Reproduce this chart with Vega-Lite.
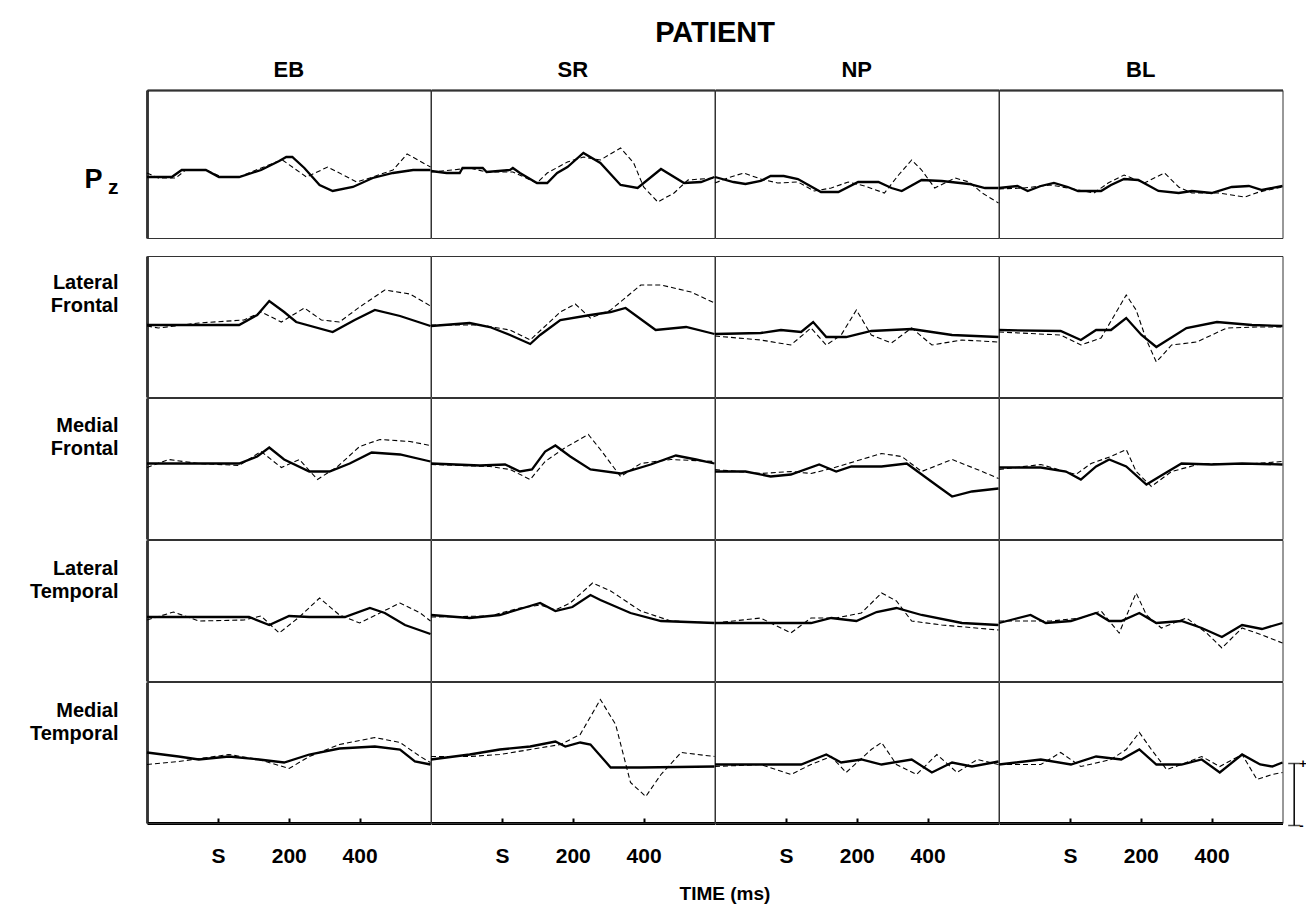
{
"$schema":"https://vega.github.io/schema/vega-lite/v6.json",
"padding":{"left":29,"top":19,"right":0,"bottom":4},
"spacing":16,
"datasets":{"erp":[
{"r":"Pz","c":"EB","k":"s","t":-200,"v":-2.6},{"r":"Pz","c":"EB","k":"s","t":-130,"v":-2.6},{"r":"Pz","c":"EB","k":"s","t":-102,"v":-1.2},{"r":"Pz","c":"EB","k":"s","t":-34,"v":-1.2},{"r":"Pz","c":"EB","k":"s","t":3,"v":-2.6},{"r":"Pz","c":"EB","k":"s","t":60,"v":-2.6},{"r":"Pz","c":"EB","k":"s","t":122,"v":-1.2},{"r":"Pz","c":"EB","k":"s","t":173,"v":0.6},{"r":"Pz","c":"EB","k":"s","t":193,"v":1.4},{"r":"Pz","c":"EB","k":"s","t":210,"v":1.4},{"r":"Pz","c":"EB","k":"s","t":244,"v":-0.8},{"r":"Pz","c":"EB","k":"s","t":287,"v":-4.2},{"r":"Pz","c":"EB","k":"s","t":324,"v":-5.4},{"r":"Pz","c":"EB","k":"s","t":381,"v":-4.6},{"r":"Pz","c":"EB","k":"s","t":437,"v":-2.8},{"r":"Pz","c":"EB","k":"s","t":494,"v":-1.8},{"r":"Pz","c":"EB","k":"s","t":551,"v":-1.2},{"r":"Pz","c":"EB","k":"s","t":600,"v":-1.2},
{"r":"Pz","c":"EB","k":"d","t":-200,"v":-1.8},{"r":"Pz","c":"EB","k":"d","t":-168,"v":-2.8},{"r":"Pz","c":"EB","k":"d","t":-119,"v":-2.8},{"r":"Pz","c":"EB","k":"d","t":-91,"v":-1.2},{"r":"Pz","c":"EB","k":"d","t":-34,"v":-1.2},{"r":"Pz","c":"EB","k":"d","t":11,"v":-2.6},{"r":"Pz","c":"EB","k":"d","t":60,"v":-2.6},{"r":"Pz","c":"EB","k":"d","t":108,"v":-1.2},{"r":"Pz","c":"EB","k":"d","t":165,"v":0.4},{"r":"Pz","c":"EB","k":"d","t":182,"v":0.8},{"r":"Pz","c":"EB","k":"d","t":250,"v":-2.6},{"r":"Pz","c":"EB","k":"d","t":310,"v":-0.6},{"r":"Pz","c":"EB","k":"d","t":392,"v":-3.6},{"r":"Pz","c":"EB","k":"d","t":437,"v":-2.6},{"r":"Pz","c":"EB","k":"d","t":494,"v":-1.2},{"r":"Pz","c":"EB","k":"d","t":534,"v":2.0},{"r":"Pz","c":"EB","k":"d","t":600,"v":-0.6},
{"r":"Pz","c":"SR","k":"s","t":-200,"v":-1.4},{"r":"Pz","c":"SR","k":"s","t":-156,"v":-1.8},{"r":"Pz","c":"SR","k":"s","t":-119,"v":-1.8},{"r":"Pz","c":"SR","k":"s","t":-111,"v":-0.8},{"r":"Pz","c":"SR","k":"s","t":-54,"v":-0.8},{"r":"Pz","c":"SR","k":"s","t":-43,"v":-1.6},{"r":"Pz","c":"SR","k":"s","t":23,"v":-1.2},{"r":"Pz","c":"SR","k":"s","t":31,"v":-0.8},{"r":"Pz","c":"SR","k":"s","t":51,"v":-1.8},{"r":"Pz","c":"SR","k":"s","t":99,"v":-3.8},{"r":"Pz","c":"SR","k":"s","t":128,"v":-3.8},{"r":"Pz","c":"SR","k":"s","t":156,"v":-1.8},{"r":"Pz","c":"SR","k":"s","t":185,"v":-0.6},{"r":"Pz","c":"SR","k":"s","t":230,"v":2.2},{"r":"Pz","c":"SR","k":"s","t":278,"v":0.2},{"r":"Pz","c":"SR","k":"s","t":335,"v":-4.2},{"r":"Pz","c":"SR","k":"s","t":383,"v":-4.8},{"r":"Pz","c":"SR","k":"s","t":449,"v":-1.0},{"r":"Pz","c":"SR","k":"s","t":514,"v":-3.8},{"r":"Pz","c":"SR","k":"s","t":562,"v":-3.6},{"r":"Pz","c":"SR","k":"s","t":600,"v":-2.6},
{"r":"Pz","c":"SR","k":"d","t":-200,"v":-1.6},{"r":"Pz","c":"SR","k":"d","t":-139,"v":-1.2},{"r":"Pz","c":"SR","k":"d","t":-91,"v":-0.8},{"r":"Pz","c":"SR","k":"d","t":-43,"v":-1.6},{"r":"Pz","c":"SR","k":"d","t":31,"v":-1.6},{"r":"Pz","c":"SR","k":"d","t":99,"v":-3.8},{"r":"Pz","c":"SR","k":"d","t":128,"v":-1.8},{"r":"Pz","c":"SR","k":"d","t":185,"v":0.4},{"r":"Pz","c":"SR","k":"d","t":230,"v":1.4},{"r":"Pz","c":"SR","k":"d","t":278,"v":0.8},{"r":"Pz","c":"SR","k":"d","t":335,"v":3.2},{"r":"Pz","c":"SR","k":"d","t":372,"v":0.2},{"r":"Pz","c":"SR","k":"d","t":400,"v":-4.6},{"r":"Pz","c":"SR","k":"d","t":440,"v":-7.6},{"r":"Pz","c":"SR","k":"d","t":486,"v":-5.8},{"r":"Pz","c":"SR","k":"d","t":525,"v":-3.2},{"r":"Pz","c":"SR","k":"d","t":600,"v":-2.8},
{"r":"Pz","c":"NP","k":"s","t":-200,"v":-2.6},{"r":"Pz","c":"NP","k":"s","t":-148,"v":-3.6},{"r":"Pz","c":"NP","k":"s","t":-114,"v":-4.0},{"r":"Pz","c":"NP","k":"s","t":-71,"v":-3.4},{"r":"Pz","c":"NP","k":"s","t":-43,"v":-2.4},{"r":"Pz","c":"NP","k":"s","t":-6,"v":-2.4},{"r":"Pz","c":"NP","k":"s","t":34,"v":-3.0},{"r":"Pz","c":"NP","k":"s","t":99,"v":-5.6},{"r":"Pz","c":"NP","k":"s","t":148,"v":-5.6},{"r":"Pz","c":"NP","k":"s","t":204,"v":-3.6},{"r":"Pz","c":"NP","k":"s","t":261,"v":-3.6},{"r":"Pz","c":"NP","k":"s","t":298,"v":-4.8},{"r":"Pz","c":"NP","k":"s","t":327,"v":-5.4},{"r":"Pz","c":"NP","k":"s","t":383,"v":-3.2},{"r":"Pz","c":"NP","k":"s","t":440,"v":-3.4},{"r":"Pz","c":"NP","k":"s","t":517,"v":-4.0},{"r":"Pz","c":"NP","k":"s","t":562,"v":-4.8},{"r":"Pz","c":"NP","k":"s","t":600,"v":-4.8},
{"r":"Pz","c":"NP","k":"d","t":-200,"v":-3.8},{"r":"Pz","c":"NP","k":"d","t":-165,"v":-2.8},{"r":"Pz","c":"NP","k":"d","t":-119,"v":-1.8},{"r":"Pz","c":"NP","k":"d","t":-71,"v":-3.0},{"r":"Pz","c":"NP","k":"d","t":-23,"v":-3.8},{"r":"Pz","c":"NP","k":"d","t":34,"v":-3.6},{"r":"Pz","c":"NP","k":"d","t":80,"v":-5.4},{"r":"Pz","c":"NP","k":"d","t":128,"v":-4.8},{"r":"Pz","c":"NP","k":"d","t":176,"v":-3.6},{"r":"Pz","c":"NP","k":"d","t":222,"v":-4.4},{"r":"Pz","c":"NP","k":"d","t":278,"v":-5.8},{"r":"Pz","c":"NP","k":"d","t":318,"v":-2.2},{"r":"Pz","c":"NP","k":"d","t":355,"v":0.8},{"r":"Pz","c":"NP","k":"d","t":383,"v":-1.2},{"r":"Pz","c":"NP","k":"d","t":420,"v":-4.8},{"r":"Pz","c":"NP","k":"d","t":477,"v":-2.8},{"r":"Pz","c":"NP","k":"d","t":517,"v":-3.6},{"r":"Pz","c":"NP","k":"d","t":554,"v":-5.8},{"r":"Pz","c":"NP","k":"d","t":600,"v":-7.8},
{"r":"Pz","c":"BL","k":"s","t":-200,"v":-4.8},{"r":"Pz","c":"BL","k":"s","t":-148,"v":-4.4},{"r":"Pz","c":"BL","k":"s","t":-119,"v":-5.4},{"r":"Pz","c":"BL","k":"s","t":-82,"v":-4.4},{"r":"Pz","c":"BL","k":"s","t":-45,"v":-3.8},{"r":"Pz","c":"BL","k":"s","t":-6,"v":-4.6},{"r":"Pz","c":"BL","k":"s","t":23,"v":-5.4},{"r":"Pz","c":"BL","k":"s","t":88,"v":-5.4},{"r":"Pz","c":"BL","k":"s","t":116,"v":-4.2},{"r":"Pz","c":"BL","k":"s","t":153,"v":-3.0},{"r":"Pz","c":"BL","k":"s","t":193,"v":-3.2},{"r":"Pz","c":"BL","k":"s","t":250,"v":-5.4},{"r":"Pz","c":"BL","k":"s","t":307,"v":-5.8},{"r":"Pz","c":"BL","k":"s","t":344,"v":-5.4},{"r":"Pz","c":"BL","k":"s","t":400,"v":-5.8},{"r":"Pz","c":"BL","k":"s","t":457,"v":-4.6},{"r":"Pz","c":"BL","k":"s","t":505,"v":-4.4},{"r":"Pz","c":"BL","k":"s","t":542,"v":-5.2},{"r":"Pz","c":"BL","k":"s","t":600,"v":-4.4},
{"r":"Pz","c":"BL","k":"d","t":-200,"v":-5.0},{"r":"Pz","c":"BL","k":"d","t":-131,"v":-4.8},{"r":"Pz","c":"BL","k":"d","t":-54,"v":-4.2},{"r":"Pz","c":"BL","k":"d","t":-6,"v":-4.8},{"r":"Pz","c":"BL","k":"d","t":68,"v":-5.8},{"r":"Pz","c":"BL","k":"d","t":108,"v":-3.8},{"r":"Pz","c":"BL","k":"d","t":153,"v":-2.2},{"r":"Pz","c":"BL","k":"d","t":210,"v":-3.8},{"r":"Pz","c":"BL","k":"d","t":267,"v":-1.8},{"r":"Pz","c":"BL","k":"d","t":307,"v":-4.6},{"r":"Pz","c":"BL","k":"d","t":344,"v":-5.8},{"r":"Pz","c":"BL","k":"d","t":420,"v":-5.8},{"r":"Pz","c":"BL","k":"d","t":494,"v":-6.6},{"r":"Pz","c":"BL","k":"d","t":534,"v":-5.6},{"r":"Pz","c":"BL","k":"d","t":600,"v":-4.6},

{"r":"Lateral Frontal","c":"EB","k":"s","t":-200,"v":0.3},{"r":"Lateral Frontal","c":"EB","k":"s","t":60,"v":0.3},{"r":"Lateral Frontal","c":"EB","k":"s","t":111,"v":2.3},{"r":"Lateral Frontal","c":"EB","k":"s","t":145,"v":5.1},{"r":"Lateral Frontal","c":"EB","k":"s","t":187,"v":2.9},{"r":"Lateral Frontal","c":"EB","k":"s","t":221,"v":0.9},{"r":"Lateral Frontal","c":"EB","k":"s","t":324,"v":-1.1},{"r":"Lateral Frontal","c":"EB","k":"s","t":386,"v":1.3},{"r":"Lateral Frontal","c":"EB","k":"s","t":443,"v":3.3},{"r":"Lateral Frontal","c":"EB","k":"s","t":514,"v":2.1},{"r":"Lateral Frontal","c":"EB","k":"s","t":600,"v":0.1},
{"r":"Lateral Frontal","c":"EB","k":"d","t":-200,"v":0.1},{"r":"Lateral Frontal","c":"EB","k":"d","t":-168,"v":-0.3},{"r":"Lateral Frontal","c":"EB","k":"d","t":-54,"v":0.7},{"r":"Lateral Frontal","c":"EB","k":"d","t":74,"v":1.3},{"r":"Lateral Frontal","c":"EB","k":"d","t":122,"v":2.9},{"r":"Lateral Frontal","c":"EB","k":"d","t":179,"v":0.9},{"r":"Lateral Frontal","c":"EB","k":"d","t":244,"v":3.7},{"r":"Lateral Frontal","c":"EB","k":"d","t":292,"v":1.3},{"r":"Lateral Frontal","c":"EB","k":"d","t":343,"v":0.9},{"r":"Lateral Frontal","c":"EB","k":"d","t":400,"v":3.9},{"r":"Lateral Frontal","c":"EB","k":"d","t":471,"v":7.3},{"r":"Lateral Frontal","c":"EB","k":"d","t":542,"v":6.5},{"r":"Lateral Frontal","c":"EB","k":"d","t":600,"v":4.1},
{"r":"Lateral Frontal","c":"SR","k":"s","t":-200,"v":0.1},{"r":"Lateral Frontal","c":"SR","k":"s","t":-91,"v":0.7},{"r":"Lateral Frontal","c":"SR","k":"s","t":-34,"v":-0.1},{"r":"Lateral Frontal","c":"SR","k":"s","t":23,"v":-1.7},{"r":"Lateral Frontal","c":"SR","k":"s","t":80,"v":-3.5},{"r":"Lateral Frontal","c":"SR","k":"s","t":108,"v":-1.7},{"r":"Lateral Frontal","c":"SR","k":"s","t":165,"v":1.3},{"r":"Lateral Frontal","c":"SR","k":"s","t":250,"v":2.3},{"r":"Lateral Frontal","c":"SR","k":"s","t":307,"v":2.9},{"r":"Lateral Frontal","c":"SR","k":"s","t":349,"v":3.7},{"r":"Lateral Frontal","c":"SR","k":"s","t":434,"v":-0.7},{"r":"Lateral Frontal","c":"SR","k":"s","t":520,"v":-0.1},{"r":"Lateral Frontal","c":"SR","k":"s","t":600,"v":-1.5},
{"r":"Lateral Frontal","c":"SR","k":"d","t":-200,"v":0.3},{"r":"Lateral Frontal","c":"SR","k":"d","t":-62,"v":0.3},{"r":"Lateral Frontal","c":"SR","k":"d","t":23,"v":-0.7},{"r":"Lateral Frontal","c":"SR","k":"d","t":80,"v":-2.7},{"r":"Lateral Frontal","c":"SR","k":"d","t":165,"v":2.9},{"r":"Lateral Frontal","c":"SR","k":"d","t":207,"v":4.5},{"r":"Lateral Frontal","c":"SR","k":"d","t":250,"v":1.7},{"r":"Lateral Frontal","c":"SR","k":"d","t":307,"v":3.3},{"r":"Lateral Frontal","c":"SR","k":"d","t":392,"v":8.3},{"r":"Lateral Frontal","c":"SR","k":"d","t":449,"v":8.3},{"r":"Lateral Frontal","c":"SR","k":"d","t":534,"v":6.9},{"r":"Lateral Frontal","c":"SR","k":"d","t":600,"v":4.7},
{"r":"Lateral Frontal","c":"NP","k":"s","t":-200,"v":-1.5},{"r":"Lateral Frontal","c":"NP","k":"s","t":-71,"v":-1.3},{"r":"Lateral Frontal","c":"NP","k":"s","t":-14,"v":-0.7},{"r":"Lateral Frontal","c":"NP","k":"s","t":43,"v":-1.1},{"r":"Lateral Frontal","c":"NP","k":"s","t":77,"v":0.9},{"r":"Lateral Frontal","c":"NP","k":"s","t":114,"v":-2.1},{"r":"Lateral Frontal","c":"NP","k":"s","t":170,"v":-2.1},{"r":"Lateral Frontal","c":"NP","k":"s","t":241,"v":-0.9},{"r":"Lateral Frontal","c":"NP","k":"s","t":355,"v":-0.5},{"r":"Lateral Frontal","c":"NP","k":"s","t":469,"v":-1.7},{"r":"Lateral Frontal","c":"NP","k":"s","t":600,"v":-2.1},
{"r":"Lateral Frontal","c":"NP","k":"d","t":-200,"v":-1.9},{"r":"Lateral Frontal","c":"NP","k":"d","t":-71,"v":-2.7},{"r":"Lateral Frontal","c":"NP","k":"d","t":14,"v":-3.7},{"r":"Lateral Frontal","c":"NP","k":"d","t":71,"v":-0.3},{"r":"Lateral Frontal","c":"NP","k":"d","t":114,"v":-3.7},{"r":"Lateral Frontal","c":"NP","k":"d","t":156,"v":-1.7},{"r":"Lateral Frontal","c":"NP","k":"d","t":199,"v":3.3},{"r":"Lateral Frontal","c":"NP","k":"d","t":241,"v":-1.7},{"r":"Lateral Frontal","c":"NP","k":"d","t":298,"v":-3.3},{"r":"Lateral Frontal","c":"NP","k":"d","t":355,"v":-0.3},{"r":"Lateral Frontal","c":"NP","k":"d","t":412,"v":-3.7},{"r":"Lateral Frontal","c":"NP","k":"d","t":497,"v":-2.7},{"r":"Lateral Frontal","c":"NP","k":"d","t":600,"v":-3.1},
{"r":"Lateral Frontal","c":"BL","k":"s","t":-200,"v":-0.7},{"r":"Lateral Frontal","c":"BL","k":"s","t":-26,"v":-0.9},{"r":"Lateral Frontal","c":"BL","k":"s","t":31,"v":-2.7},{"r":"Lateral Frontal","c":"BL","k":"s","t":74,"v":-0.7},{"r":"Lateral Frontal","c":"BL","k":"s","t":116,"v":-0.7},{"r":"Lateral Frontal","c":"BL","k":"s","t":159,"v":1.7},{"r":"Lateral Frontal","c":"BL","k":"s","t":202,"v":-1.7},{"r":"Lateral Frontal","c":"BL","k":"s","t":244,"v":-4.1},{"r":"Lateral Frontal","c":"BL","k":"s","t":329,"v":-0.3},{"r":"Lateral Frontal","c":"BL","k":"s","t":415,"v":0.9},{"r":"Lateral Frontal","c":"BL","k":"s","t":514,"v":0.3},{"r":"Lateral Frontal","c":"BL","k":"s","t":600,"v":0.1},
{"r":"Lateral Frontal","c":"BL","k":"d","t":-200,"v":-1.1},{"r":"Lateral Frontal","c":"BL","k":"d","t":-26,"v":-1.7},{"r":"Lateral Frontal","c":"BL","k":"d","t":31,"v":-3.7},{"r":"Lateral Frontal","c":"BL","k":"d","t":88,"v":-2.3},{"r":"Lateral Frontal","c":"BL","k":"d","t":131,"v":2.9},{"r":"Lateral Frontal","c":"BL","k":"d","t":159,"v":6.3},{"r":"Lateral Frontal","c":"BL","k":"d","t":187,"v":3.3},{"r":"Lateral Frontal","c":"BL","k":"d","t":216,"v":-2.7},{"r":"Lateral Frontal","c":"BL","k":"d","t":244,"v":-7.1},{"r":"Lateral Frontal","c":"BL","k":"d","t":287,"v":-3.7},{"r":"Lateral Frontal","c":"BL","k":"d","t":358,"v":-3.1},{"r":"Lateral Frontal","c":"BL","k":"d","t":443,"v":-0.3},{"r":"Lateral Frontal","c":"BL","k":"d","t":528,"v":-0.1},{"r":"Lateral Frontal","c":"BL","k":"d","t":600,"v":-0.1},

{"r":"Medial Frontal","c":"EB","k":"s","t":-200,"v":1},{"r":"Medial Frontal","c":"EB","k":"s","t":60,"v":1},{"r":"Medial Frontal","c":"EB","k":"s","t":111,"v":2.4},{"r":"Medial Frontal","c":"EB","k":"s","t":145,"v":4.2},{"r":"Medial Frontal","c":"EB","k":"s","t":187,"v":1.8},{"r":"Medial Frontal","c":"EB","k":"s","t":258,"v":-0.6},{"r":"Medial Frontal","c":"EB","k":"s","t":315,"v":-0.6},{"r":"Medial Frontal","c":"EB","k":"s","t":372,"v":1},{"r":"Medial Frontal","c":"EB","k":"s","t":434,"v":3.2},{"r":"Medial Frontal","c":"EB","k":"s","t":514,"v":2.8},{"r":"Medial Frontal","c":"EB","k":"s","t":600,"v":1.4},
{"r":"Medial Frontal","c":"EB","k":"d","t":-200,"v":0.2},{"r":"Medial Frontal","c":"EB","k":"d","t":-139,"v":1.8},{"r":"Medial Frontal","c":"EB","k":"d","t":-54,"v":1},{"r":"Medial Frontal","c":"EB","k":"d","t":60,"v":0.6},{"r":"Medial Frontal","c":"EB","k":"d","t":122,"v":3.4},{"r":"Medial Frontal","c":"EB","k":"d","t":179,"v":0.2},{"r":"Medial Frontal","c":"EB","k":"d","t":230,"v":1.8},{"r":"Medial Frontal","c":"EB","k":"d","t":281,"v":-2.2},{"r":"Medial Frontal","c":"EB","k":"d","t":338,"v":0.4},{"r":"Medial Frontal","c":"EB","k":"d","t":400,"v":4.4},{"r":"Medial Frontal","c":"EB","k":"d","t":457,"v":5.8},{"r":"Medial Frontal","c":"EB","k":"d","t":542,"v":5.4},{"r":"Medial Frontal","c":"EB","k":"d","t":600,"v":4.6},
{"r":"Medial Frontal","c":"SR","k":"s","t":-200,"v":1},{"r":"Medial Frontal","c":"SR","k":"s","t":-62,"v":0.6},{"r":"Medial Frontal","c":"SR","k":"s","t":9,"v":0.8},{"r":"Medial Frontal","c":"SR","k":"s","t":51,"v":-0.6},{"r":"Medial Frontal","c":"SR","k":"s","t":85,"v":-0.2},{"r":"Medial Frontal","c":"SR","k":"s","t":122,"v":3.4},{"r":"Medial Frontal","c":"SR","k":"s","t":151,"v":4.6},{"r":"Medial Frontal","c":"SR","k":"s","t":193,"v":2.4},{"r":"Medial Frontal","c":"SR","k":"s","t":250,"v":-0.2},{"r":"Medial Frontal","c":"SR","k":"s","t":335,"v":-1},{"r":"Medial Frontal","c":"SR","k":"s","t":420,"v":0.8},{"r":"Medial Frontal","c":"SR","k":"s","t":491,"v":2.6},{"r":"Medial Frontal","c":"SR","k":"s","t":548,"v":1.8},{"r":"Medial Frontal","c":"SR","k":"s","t":600,"v":1},
{"r":"Medial Frontal","c":"SR","k":"d","t":-200,"v":0.8},{"r":"Medial Frontal","c":"SR","k":"d","t":-34,"v":0.4},{"r":"Medial Frontal","c":"SR","k":"d","t":23,"v":-0.2},{"r":"Medial Frontal","c":"SR","k":"d","t":80,"v":-2.2},{"r":"Medial Frontal","c":"SR","k":"d","t":122,"v":1.4},{"r":"Medial Frontal","c":"SR","k":"d","t":179,"v":4.2},{"r":"Medial Frontal","c":"SR","k":"d","t":244,"v":6.8},{"r":"Medial Frontal","c":"SR","k":"d","t":278,"v":3.8},{"r":"Medial Frontal","c":"SR","k":"d","t":335,"v":-1.6},{"r":"Medial Frontal","c":"SR","k":"d","t":392,"v":1},{"r":"Medial Frontal","c":"SR","k":"d","t":477,"v":1.8},{"r":"Medial Frontal","c":"SR","k":"d","t":600,"v":1.4},
{"r":"Medial Frontal","c":"NP","k":"s","t":-200,"v":-0.6},{"r":"Medial Frontal","c":"NP","k":"s","t":-114,"v":-0.6},{"r":"Medial Frontal","c":"NP","k":"s","t":-43,"v":-1.6},{"r":"Medial Frontal","c":"NP","k":"s","t":14,"v":-1.2},{"r":"Medial Frontal","c":"NP","k":"s","t":94,"v":0.8},{"r":"Medial Frontal","c":"NP","k":"s","t":142,"v":-0.6},{"r":"Medial Frontal","c":"NP","k":"s","t":185,"v":0.4},{"r":"Medial Frontal","c":"NP","k":"s","t":270,"v":0.4},{"r":"Medial Frontal","c":"NP","k":"s","t":341,"v":1},{"r":"Medial Frontal","c":"NP","k":"s","t":426,"v":-3.4},{"r":"Medial Frontal","c":"NP","k":"s","t":469,"v":-5.6},{"r":"Medial Frontal","c":"NP","k":"s","t":525,"v":-4.6},{"r":"Medial Frontal","c":"NP","k":"s","t":600,"v":-4},
{"r":"Medial Frontal","c":"NP","k":"d","t":-200,"v":-0.2},{"r":"Medial Frontal","c":"NP","k":"d","t":-71,"v":-1},{"r":"Medial Frontal","c":"NP","k":"d","t":14,"v":-0.6},{"r":"Medial Frontal","c":"NP","k":"d","t":71,"v":-1},{"r":"Medial Frontal","c":"NP","k":"d","t":128,"v":0},{"r":"Medial Frontal","c":"NP","k":"d","t":213,"v":1.8},{"r":"Medial Frontal","c":"NP","k":"d","t":270,"v":3},{"r":"Medial Frontal","c":"NP","k":"d","t":327,"v":2.4},{"r":"Medial Frontal","c":"NP","k":"d","t":383,"v":-0.6},{"r":"Medial Frontal","c":"NP","k":"d","t":469,"v":1.8},{"r":"Medial Frontal","c":"NP","k":"d","t":554,"v":-0.6},{"r":"Medial Frontal","c":"NP","k":"d","t":600,"v":-2},
{"r":"Medial Frontal","c":"BL","k":"s","t":-200,"v":0.2},{"r":"Medial Frontal","c":"BL","k":"s","t":-82,"v":0.2},{"r":"Medial Frontal","c":"BL","k":"s","t":-11,"v":-0.6},{"r":"Medial Frontal","c":"BL","k":"s","t":31,"v":-2.2},{"r":"Medial Frontal","c":"BL","k":"s","t":74,"v":0.4},{"r":"Medial Frontal","c":"BL","k":"s","t":111,"v":1.8},{"r":"Medial Frontal","c":"BL","k":"s","t":159,"v":0.4},{"r":"Medial Frontal","c":"BL","k":"s","t":216,"v":-3.2},{"r":"Medial Frontal","c":"BL","k":"s","t":258,"v":-1.4},{"r":"Medial Frontal","c":"BL","k":"s","t":315,"v":1},{"r":"Medial Frontal","c":"BL","k":"s","t":400,"v":0.8},{"r":"Medial Frontal","c":"BL","k":"s","t":486,"v":1},{"r":"Medial Frontal","c":"BL","k":"s","t":600,"v":0.8},
{"r":"Medial Frontal","c":"BL","k":"d","t":-200,"v":-0.2},{"r":"Medial Frontal","c":"BL","k":"d","t":-82,"v":0.8},{"r":"Medial Frontal","c":"BL","k":"d","t":17,"v":-1.2},{"r":"Medial Frontal","c":"BL","k":"d","t":60,"v":1},{"r":"Medial Frontal","c":"BL","k":"d","t":116,"v":2.4},{"r":"Medial Frontal","c":"BL","k":"d","t":159,"v":3.8},{"r":"Medial Frontal","c":"BL","k":"d","t":187,"v":-0.6},{"r":"Medial Frontal","c":"BL","k":"d","t":230,"v":-3.6},{"r":"Medial Frontal","c":"BL","k":"d","t":287,"v":-0.6},{"r":"Medial Frontal","c":"BL","k":"d","t":372,"v":1},{"r":"Medial Frontal","c":"BL","k":"d","t":486,"v":0.8},{"r":"Medial Frontal","c":"BL","k":"d","t":600,"v":1.4},

{"r":"Lateral Temporal","c":"EB","k":"s","t":-200,"v":-1.3},{"r":"Lateral Temporal","c":"EB","k":"s","t":88,"v":-1.3},{"r":"Lateral Temporal","c":"EB","k":"s","t":145,"v":-2.9},{"r":"Lateral Temporal","c":"EB","k":"s","t":201,"v":-1.1},{"r":"Lateral Temporal","c":"EB","k":"s","t":258,"v":-1.3},{"r":"Lateral Temporal","c":"EB","k":"s","t":358,"v":-1.3},{"r":"Lateral Temporal","c":"EB","k":"s","t":429,"v":0.5},{"r":"Lateral Temporal","c":"EB","k":"s","t":471,"v":-0.5},{"r":"Lateral Temporal","c":"EB","k":"s","t":528,"v":-2.9},{"r":"Lateral Temporal","c":"EB","k":"s","t":600,"v":-4.7},
{"r":"Lateral Temporal","c":"EB","k":"d","t":-200,"v":-1.9},{"r":"Lateral Temporal","c":"EB","k":"d","t":-125,"v":-0.3},{"r":"Lateral Temporal","c":"EB","k":"d","t":-54,"v":-2.1},{"r":"Lateral Temporal","c":"EB","k":"d","t":74,"v":-1.9},{"r":"Lateral Temporal","c":"EB","k":"d","t":122,"v":-1.1},{"r":"Lateral Temporal","c":"EB","k":"d","t":173,"v":-4.5},{"r":"Lateral Temporal","c":"EB","k":"d","t":230,"v":-1.3},{"r":"Lateral Temporal","c":"EB","k":"d","t":287,"v":2.5},{"r":"Lateral Temporal","c":"EB","k":"d","t":343,"v":-0.9},{"r":"Lateral Temporal","c":"EB","k":"d","t":400,"v":-2.5},{"r":"Lateral Temporal","c":"EB","k":"d","t":457,"v":-0.5},{"r":"Lateral Temporal","c":"EB","k":"d","t":514,"v":1.5},{"r":"Lateral Temporal","c":"EB","k":"d","t":571,"v":-0.5},{"r":"Lateral Temporal","c":"EB","k":"d","t":600,"v":-2.1},
{"r":"Lateral Temporal","c":"SR","k":"s","t":-200,"v":-0.9},{"r":"Lateral Temporal","c":"SR","k":"s","t":-91,"v":-1.5},{"r":"Lateral Temporal","c":"SR","k":"s","t":-6,"v":-0.9},{"r":"Lateral Temporal","c":"SR","k":"s","t":51,"v":0.3},{"r":"Lateral Temporal","c":"SR","k":"s","t":108,"v":1.5},{"r":"Lateral Temporal","c":"SR","k":"s","t":151,"v":-0.1},{"r":"Lateral Temporal","c":"SR","k":"s","t":199,"v":0.7},{"r":"Lateral Temporal","c":"SR","k":"s","t":250,"v":3.1},{"r":"Lateral Temporal","c":"SR","k":"s","t":278,"v":2.1},{"r":"Lateral Temporal","c":"SR","k":"s","t":363,"v":-0.5},{"r":"Lateral Temporal","c":"SR","k":"s","t":449,"v":-2.1},{"r":"Lateral Temporal","c":"SR","k":"s","t":600,"v":-2.5},
{"r":"Lateral Temporal","c":"SR","k":"d","t":-200,"v":-1.3},{"r":"Lateral Temporal","c":"SR","k":"d","t":-34,"v":-1.1},{"r":"Lateral Temporal","c":"SR","k":"d","t":51,"v":0.5},{"r":"Lateral Temporal","c":"SR","k":"d","t":108,"v":1.1},{"r":"Lateral Temporal","c":"SR","k":"d","t":151,"v":0.1},{"r":"Lateral Temporal","c":"SR","k":"d","t":193,"v":1.5},{"r":"Lateral Temporal","c":"SR","k":"d","t":256,"v":5.5},{"r":"Lateral Temporal","c":"SR","k":"d","t":307,"v":3.9},{"r":"Lateral Temporal","c":"SR","k":"d","t":392,"v":-0.1},{"r":"Lateral Temporal","c":"SR","k":"d","t":477,"v":-2.1},{"r":"Lateral Temporal","c":"SR","k":"d","t":600,"v":-2.5},
{"r":"Lateral Temporal","c":"NP","k":"s","t":-200,"v":-2.5},{"r":"Lateral Temporal","c":"NP","k":"s","t":71,"v":-2.5},{"r":"Lateral Temporal","c":"NP","k":"s","t":128,"v":-1.5},{"r":"Lateral Temporal","c":"NP","k":"s","t":199,"v":-2.1},{"r":"Lateral Temporal","c":"NP","k":"s","t":256,"v":-0.3},{"r":"Lateral Temporal","c":"NP","k":"s","t":312,"v":0.5},{"r":"Lateral Temporal","c":"NP","k":"s","t":383,"v":-0.9},{"r":"Lateral Temporal","c":"NP","k":"s","t":497,"v":-2.5},{"r":"Lateral Temporal","c":"NP","k":"s","t":600,"v":-2.9},
{"r":"Lateral Temporal","c":"NP","k":"d","t":-200,"v":-2.5},{"r":"Lateral Temporal","c":"NP","k":"d","t":-71,"v":-1.5},{"r":"Lateral Temporal","c":"NP","k":"d","t":14,"v":-4.5},{"r":"Lateral Temporal","c":"NP","k":"d","t":71,"v":-1.5},{"r":"Lateral Temporal","c":"NP","k":"d","t":142,"v":-1.5},{"r":"Lateral Temporal","c":"NP","k":"d","t":213,"v":-0.5},{"r":"Lateral Temporal","c":"NP","k":"d","t":270,"v":3.5},{"r":"Lateral Temporal","c":"NP","k":"d","t":312,"v":1.9},{"r":"Lateral Temporal","c":"NP","k":"d","t":355,"v":-2.1},{"r":"Lateral Temporal","c":"NP","k":"d","t":440,"v":-2.9},{"r":"Lateral Temporal","c":"NP","k":"d","t":600,"v":-3.9},
{"r":"Lateral Temporal","c":"BL","k":"s","t":-200,"v":-2.5},{"r":"Lateral Temporal","c":"BL","k":"s","t":-111,"v":-0.9},{"r":"Lateral Temporal","c":"BL","k":"s","t":-68,"v":-2.5},{"r":"Lateral Temporal","c":"BL","k":"s","t":3,"v":-2.1},{"r":"Lateral Temporal","c":"BL","k":"s","t":74,"v":-0.5},{"r":"Lateral Temporal","c":"BL","k":"s","t":111,"v":-2.1},{"r":"Lateral Temporal","c":"BL","k":"s","t":145,"v":-2.1},{"r":"Lateral Temporal","c":"BL","k":"s","t":196,"v":-0.5},{"r":"Lateral Temporal","c":"BL","k":"s","t":244,"v":-2.5},{"r":"Lateral Temporal","c":"BL","k":"s","t":315,"v":-2.1},{"r":"Lateral Temporal","c":"BL","k":"s","t":372,"v":-3.5},{"r":"Lateral Temporal","c":"BL","k":"s","t":429,"v":-5.3},{"r":"Lateral Temporal","c":"BL","k":"s","t":486,"v":-2.9},{"r":"Lateral Temporal","c":"BL","k":"s","t":542,"v":-3.7},{"r":"Lateral Temporal","c":"BL","k":"s","t":600,"v":-2.5},
{"r":"Lateral Temporal","c":"BL","k":"d","t":-200,"v":-2.1},{"r":"Lateral Temporal","c":"BL","k":"d","t":-54,"v":-2.1},{"r":"Lateral Temporal","c":"BL","k":"d","t":31,"v":-1.5},{"r":"Lateral Temporal","c":"BL","k":"d","t":88,"v":-0.1},{"r":"Lateral Temporal","c":"BL","k":"d","t":139,"v":-4.5},{"r":"Lateral Temporal","c":"BL","k":"d","t":187,"v":3.5},{"r":"Lateral Temporal","c":"BL","k":"d","t":216,"v":-0.9},{"r":"Lateral Temporal","c":"BL","k":"d","t":258,"v":-3.5},{"r":"Lateral Temporal","c":"BL","k":"d","t":329,"v":-1.5},{"r":"Lateral Temporal","c":"BL","k":"d","t":386,"v":-4.5},{"r":"Lateral Temporal","c":"BL","k":"d","t":429,"v":-7.5},{"r":"Lateral Temporal","c":"BL","k":"d","t":486,"v":-3.5},{"r":"Lateral Temporal","c":"BL","k":"d","t":542,"v":-4.9},{"r":"Lateral Temporal","c":"BL","k":"d","t":600,"v":-6.5},

{"r":"Medial Temporal","c":"EB","k":"s","t":-200,"v":0},{"r":"Medial Temporal","c":"EB","k":"s","t":-111,"v":-0.8},{"r":"Medial Temporal","c":"EB","k":"s","t":-54,"v":-1.4},{"r":"Medial Temporal","c":"EB","k":"s","t":31,"v":-0.8},{"r":"Medial Temporal","c":"EB","k":"s","t":116,"v":-1.4},{"r":"Medial Temporal","c":"EB","k":"s","t":187,"v":-2},{"r":"Medial Temporal","c":"EB","k":"s","t":258,"v":-0.4},{"r":"Medial Temporal","c":"EB","k":"s","t":343,"v":0.8},{"r":"Medial Temporal","c":"EB","k":"s","t":443,"v":1.2},{"r":"Medial Temporal","c":"EB","k":"s","t":514,"v":0.6},{"r":"Medial Temporal","c":"EB","k":"s","t":556,"v":-1.8},{"r":"Medial Temporal","c":"EB","k":"s","t":600,"v":-2.4},
{"r":"Medial Temporal","c":"EB","k":"d","t":-200,"v":-2.4},{"r":"Medial Temporal","c":"EB","k":"d","t":-111,"v":-1.8},{"r":"Medial Temporal","c":"EB","k":"d","t":31,"v":-0.4},{"r":"Medial Temporal","c":"EB","k":"d","t":116,"v":-1.4},{"r":"Medial Temporal","c":"EB","k":"d","t":201,"v":-3.2},{"r":"Medial Temporal","c":"EB","k":"d","t":258,"v":-0.8},{"r":"Medial Temporal","c":"EB","k":"d","t":343,"v":1.6},{"r":"Medial Temporal","c":"EB","k":"d","t":443,"v":3},{"r":"Medial Temporal","c":"EB","k":"d","t":514,"v":2},{"r":"Medial Temporal","c":"EB","k":"d","t":571,"v":-0.8},{"r":"Medial Temporal","c":"EB","k":"d","t":600,"v":-2},
{"r":"Medial Temporal","c":"SR","k":"s","t":-200,"v":-1.4},{"r":"Medial Temporal","c":"SR","k":"s","t":-91,"v":-0.4},{"r":"Medial Temporal","c":"SR","k":"s","t":-6,"v":0.6},{"r":"Medial Temporal","c":"SR","k":"s","t":80,"v":1.2},{"r":"Medial Temporal","c":"SR","k":"s","t":151,"v":2.2},{"r":"Medial Temporal","c":"SR","k":"s","t":179,"v":1.2},{"r":"Medial Temporal","c":"SR","k":"s","t":221,"v":2},{"r":"Medial Temporal","c":"SR","k":"s","t":250,"v":1.6},{"r":"Medial Temporal","c":"SR","k":"s","t":307,"v":-3},{"r":"Medial Temporal","c":"SR","k":"s","t":392,"v":-3},{"r":"Medial Temporal","c":"SR","k":"s","t":600,"v":-2.8},
{"r":"Medial Temporal","c":"SR","k":"d","t":-200,"v":-0.8},{"r":"Medial Temporal","c":"SR","k":"d","t":-91,"v":-0.8},{"r":"Medial Temporal","c":"SR","k":"d","t":-6,"v":-0.4},{"r":"Medial Temporal","c":"SR","k":"d","t":80,"v":0.6},{"r":"Medial Temporal","c":"SR","k":"d","t":165,"v":1.6},{"r":"Medial Temporal","c":"SR","k":"d","t":221,"v":3.6},{"r":"Medial Temporal","c":"SR","k":"d","t":278,"v":10.6},{"r":"Medial Temporal","c":"SR","k":"d","t":321,"v":5.6},{"r":"Medial Temporal","c":"SR","k":"d","t":363,"v":-6},{"r":"Medial Temporal","c":"SR","k":"d","t":406,"v":-8.8},{"r":"Medial Temporal","c":"SR","k":"d","t":449,"v":-4.4},{"r":"Medial Temporal","c":"SR","k":"d","t":506,"v":0},{"r":"Medial Temporal","c":"SR","k":"d","t":600,"v":-0.8},
{"r":"Medial Temporal","c":"NP","k":"s","t":-200,"v":-2.4},{"r":"Medial Temporal","c":"NP","k":"s","t":43,"v":-2.4},{"r":"Medial Temporal","c":"NP","k":"s","t":114,"v":-0.4},{"r":"Medial Temporal","c":"NP","k":"s","t":156,"v":-2},{"r":"Medial Temporal","c":"NP","k":"s","t":213,"v":-1.4},{"r":"Medial Temporal","c":"NP","k":"s","t":270,"v":-2.4},{"r":"Medial Temporal","c":"NP","k":"s","t":355,"v":-1.4},{"r":"Medial Temporal","c":"NP","k":"s","t":412,"v":-4},{"r":"Medial Temporal","c":"NP","k":"s","t":469,"v":-2},{"r":"Medial Temporal","c":"NP","k":"s","t":525,"v":-2.8},{"r":"Medial Temporal","c":"NP","k":"s","t":600,"v":-1.8},
{"r":"Medial Temporal","c":"NP","k":"d","t":-200,"v":-2.8},{"r":"Medial Temporal","c":"NP","k":"d","t":-71,"v":-2.4},{"r":"Medial Temporal","c":"NP","k":"d","t":14,"v":-4.4},{"r":"Medial Temporal","c":"NP","k":"d","t":71,"v":-2.4},{"r":"Medial Temporal","c":"NP","k":"d","t":128,"v":-0.8},{"r":"Medial Temporal","c":"NP","k":"d","t":170,"v":-4},{"r":"Medial Temporal","c":"NP","k":"d","t":241,"v":0.6},{"r":"Medial Temporal","c":"NP","k":"d","t":270,"v":2},{"r":"Medial Temporal","c":"NP","k":"d","t":312,"v":-2.4},{"r":"Medial Temporal","c":"NP","k":"d","t":369,"v":-4.4},{"r":"Medial Temporal","c":"NP","k":"d","t":426,"v":-0.4},{"r":"Medial Temporal","c":"NP","k":"d","t":483,"v":-4},{"r":"Medial Temporal","c":"NP","k":"d","t":540,"v":-1.4},{"r":"Medial Temporal","c":"NP","k":"d","t":600,"v":-2.4},
{"r":"Medial Temporal","c":"BL","k":"s","t":-200,"v":-2.4},{"r":"Medial Temporal","c":"BL","k":"s","t":-82,"v":-1.4},{"r":"Medial Temporal","c":"BL","k":"s","t":3,"v":-2.4},{"r":"Medial Temporal","c":"BL","k":"s","t":74,"v":-0.8},{"r":"Medial Temporal","c":"BL","k":"s","t":145,"v":-1.4},{"r":"Medial Temporal","c":"BL","k":"s","t":196,"v":0.6},{"r":"Medial Temporal","c":"BL","k":"s","t":244,"v":-2.4},{"r":"Medial Temporal","c":"BL","k":"s","t":315,"v":-2.4},{"r":"Medial Temporal","c":"BL","k":"s","t":372,"v":-1.4},{"r":"Medial Temporal","c":"BL","k":"s","t":423,"v":-4},{"r":"Medial Temporal","c":"BL","k":"s","t":486,"v":-0.4},{"r":"Medial Temporal","c":"BL","k":"s","t":537,"v":-2.4},{"r":"Medial Temporal","c":"BL","k":"s","t":571,"v":-2.8},{"r":"Medial Temporal","c":"BL","k":"s","t":600,"v":-2},
{"r":"Medial Temporal","c":"BL","k":"d","t":-200,"v":-2.4},{"r":"Medial Temporal","c":"BL","k":"d","t":-82,"v":-2.4},{"r":"Medial Temporal","c":"BL","k":"d","t":-26,"v":0},{"r":"Medial Temporal","c":"BL","k":"d","t":31,"v":-2.8},{"r":"Medial Temporal","c":"BL","k":"d","t":116,"v":-1.4},{"r":"Medial Temporal","c":"BL","k":"d","t":159,"v":0.6},{"r":"Medial Temporal","c":"BL","k":"d","t":196,"v":4},{"r":"Medial Temporal","c":"BL","k":"d","t":230,"v":0.6},{"r":"Medial Temporal","c":"BL","k":"d","t":273,"v":-3.4},{"r":"Medial Temporal","c":"BL","k":"d","t":315,"v":-2.4},{"r":"Medial Temporal","c":"BL","k":"d","t":372,"v":-0.8},{"r":"Medial Temporal","c":"BL","k":"d","t":423,"v":-2.8},{"r":"Medial Temporal","c":"BL","k":"d","t":486,"v":-0.4},{"r":"Medial Temporal","c":"BL","k":"d","t":528,"v":-5.4},{"r":"Medial Temporal","c":"BL","k":"d","t":571,"v":-4.4},{"r":"Medial Temporal","c":"BL","k":"d","t":600,"v":-4},

{"r":"Medial Temporal","c":"BL","k":"bar","t":633,"v":-2.2,"v2":-14.6},
{"r":"Medial Temporal","c":"BL","k":"cap","t":633,"v":-2.2,"lab":"+"},
{"r":"Medial Temporal","c":"BL","k":"cap","t":633,"v":-14.6,"lab":"-"}
]},
"vconcat":[
{
 "data":{"name":"erp"},
 "transform":[{"filter":"datum.r === 'Pz'"}],
 "facet":{"column":{"field":"c","type":"nominal","sort":["EB","SR","NP","BL"],
   "header":{"title":"PATIENT","titleFontSize":29,"titleFontWeight":"bold","titlePadding":1,"titleColor":"#000",
     "labelFontSize":22,"labelFontWeight":"bold","labelPadding":8,"labelColor":"#000"}}},
 "spacing":0,
 "bounds":"flush",
 "spec":{
   "width":283.5,"height":148,
   "encoding":{
     "x":{"field":"t","type":"quantitative","scale":{"domain":[-200,600],"nice":false,"zero":false},
       "axis":{"orient":"top","labels":false,"ticks":false,"title":null,"grid":false,"domainWidth":2,"domainColor":"#000"}},
     "y":{"field":"v","type":"quantitative","scale":{"domain":[-14.8,14.8],"nice":false,"zero":false},
       "axis":{"title":"P","titleAngle":0,"titleAlign":"right","titleBaseline":"alphabetic","titleX":-45,"titleY":97,
         "titleFontSize":27,"titleFontWeight":"bold","titleColor":"#000",
         "values":[-4.6],"labelExpr":"'z'","labelFontSize":21,"labelFontWeight":"bold","labelColor":"#000","labelPadding":29,
         "ticks":false,"grid":false,"domainWidth":2.5,"domainColor":"#000"}}
   },
   "layer":[
     {"transform":[{"filter":"datum.k === 's'"}],"mark":{"type":"line","color":"#000","strokeWidth":2.3}},
     {"transform":[{"filter":"datum.k === 'd'"}],"mark":{"type":"line","color":"#000","strokeWidth":1.1,"strokeDash":[5,3]}}
   ]
 }
},
{
 "spacing":-8,
 "vconcat":[
 {
  "data":{"name":"erp"},
  "transform":[{"filter":"datum.r === 'Lateral Frontal'"}],
  "facet":{"column":{"field":"c","type":"nominal","sort":["EB","SR","NP","BL"],"header":null}},
  "spacing":0,"bounds":"flush",
  "spec":{
    "width":283.5,"height":141,
    "encoding":{
      "x":{"field":"t","type":"quantitative","scale":{"domain":[-200,600],"nice":false,"zero":false},"axis":null},
      "y":{"field":"v","type":"quantitative","scale":{"domain":[-14.1,14.1],"nice":false,"zero":false},
        "axis":{"title":["Lateral","Frontal"],"titleAngle":0,"titleAlign":"right","titleBaseline":"alphabetic","titleX":-29,"titleY":32,"titleLineHeight":23,
          "titleFontSize":20,"titleFontWeight":"bold","titleColor":"#000","labels":false,"ticks":false,"grid":false,"domainWidth":2.5,"domainColor":"#000"}}
    },
    "layer":[
      {"transform":[{"filter":"datum.k === 's'"}],"mark":{"type":"line","color":"#000","strokeWidth":2.3}},
      {"transform":[{"filter":"datum.k === 'd'"}],"mark":{"type":"line","color":"#000","strokeWidth":1.1,"strokeDash":[5,3]}}
    ]
  }
 },
 {
  "data":{"name":"erp"},
  "transform":[{"filter":"datum.r === 'Medial Frontal'"}],
  "facet":{"column":{"field":"c","type":"nominal","sort":["EB","SR","NP","BL"],"header":null}},
  "spacing":0,"bounds":"flush",
  "spec":{
    "width":283.5,"height":141,
    "encoding":{
      "x":{"field":"t","type":"quantitative","scale":{"domain":[-200,600],"nice":false,"zero":false},"axis":null},
      "y":{"field":"v","type":"quantitative","scale":{"domain":[-14.1,14.1],"nice":false,"zero":false},
        "axis":{"title":["Medial","Frontal"],"titleAngle":0,"titleAlign":"right","titleBaseline":"alphabetic","titleX":-29,"titleY":33,"titleLineHeight":23,
          "titleFontSize":20,"titleFontWeight":"bold","titleColor":"#000","labels":false,"ticks":false,"grid":false,"domainWidth":2.5,"domainColor":"#000"}}
    },
    "layer":[
      {"transform":[{"filter":"datum.k === 's'"}],"mark":{"type":"line","color":"#000","strokeWidth":2.3}},
      {"transform":[{"filter":"datum.k === 'd'"}],"mark":{"type":"line","color":"#000","strokeWidth":1.1,"strokeDash":[5,3]}}
    ]
  }
 },
 {
  "data":{"name":"erp"},
  "transform":[{"filter":"datum.r === 'Lateral Temporal'"}],
  "facet":{"column":{"field":"c","type":"nominal","sort":["EB","SR","NP","BL"],"header":null}},
  "spacing":0,"bounds":"flush",
  "spec":{
    "width":283.5,"height":141,
    "encoding":{
      "x":{"field":"t","type":"quantitative","scale":{"domain":[-200,600],"nice":false,"zero":false},"axis":null},
      "y":{"field":"v","type":"quantitative","scale":{"domain":[-14.1,14.1],"nice":false,"zero":false},
        "axis":{"title":["Lateral","Temporal"],"titleAngle":0,"titleAlign":"right","titleBaseline":"alphabetic","titleX":-29,"titleY":34,"titleLineHeight":23,
          "titleFontSize":20,"titleFontWeight":"bold","titleColor":"#000","labels":false,"ticks":false,"grid":false,"domainWidth":2.5,"domainColor":"#000"}}
    },
    "layer":[
      {"transform":[{"filter":"datum.k === 's'"}],"mark":{"type":"line","color":"#000","strokeWidth":2.3}},
      {"transform":[{"filter":"datum.k === 'd'"}],"mark":{"type":"line","color":"#000","strokeWidth":1.1,"strokeDash":[5,3]}}
    ]
  }
 },
 {
  "data":{"name":"erp"},
  "transform":[{"filter":"datum.r === 'Medial Temporal'"}],
  "facet":{"column":{"field":"c","type":"nominal","sort":["EB","SR","NP","BL"],
    "header":{"title":"TIME (ms)","titleOrient":"bottom","labels":false,"titleFontSize":19,"titleFontWeight":"bold","titleColor":"#000","titlePadding":9}}},
  "spacing":0,"bounds":"flush",
  "spec":{
    "width":283.5,"height":141,
    "encoding":{
      "x":{"field":"t","type":"quantitative","scale":{"domain":[-200,600],"nice":false,"zero":false},
        "axis":{"values":[0,200,400],"labelExpr":"datum.value === 0 ? 'S' : datum.label","title":null,"grid":false,
          "tickSize":-5,"tickWidth":2,"tickColor":"#000","domainWidth":3,"domainColor":"#000",
          "labelFontSize":21,"labelFontWeight":"bold","labelColor":"#000","labelPadding":27}},
      "y":{"field":"v","type":"quantitative","scale":{"domain":[-14.1,14.1],"nice":false,"zero":false},
        "axis":{"title":["Medial","Temporal"],"titleAngle":0,"titleAlign":"right","titleBaseline":"alphabetic","titleX":-29,"titleY":34,"titleLineHeight":23,
          "titleFontSize":20,"titleFontWeight":"bold","titleColor":"#000","labels":false,"ticks":false,"grid":false,"domainWidth":2.5,"domainColor":"#000"}}
    },
    "layer":[
      {"transform":[{"filter":"datum.k === 's'"}],"mark":{"type":"line","color":"#000","strokeWidth":2.3}},
      {"transform":[{"filter":"datum.k === 'd'"}],"mark":{"type":"line","color":"#000","strokeWidth":1.1,"strokeDash":[5,3]}},
      {"transform":[{"filter":"datum.k === 'bar'"}],"mark":{"type":"rule","color":"#000","strokeWidth":1.5},
        "encoding":{"y2":{"field":"v2"}}},
      {"transform":[{"filter":"datum.k === 'cap'"}],"mark":{"type":"tick","orient":"horizontal","color":"#000","size":12,"thickness":1.5}},
      {"transform":[{"filter":"datum.k === 'cap'"}],"mark":{"type":"text","dx":5,"align":"left","baseline":"middle","fontSize":13,"fontWeight":"bold","color":"#000"},
        "encoding":{"text":{"field":"lab"}}}
    ]
  }
 }
 ]
}
],
"config":{
  "font":"'Liberation Sans', Arial, sans-serif",
  "view":{"stroke":"#333","strokeWidth":1},
  "axis":{"grid":false}
}
}
